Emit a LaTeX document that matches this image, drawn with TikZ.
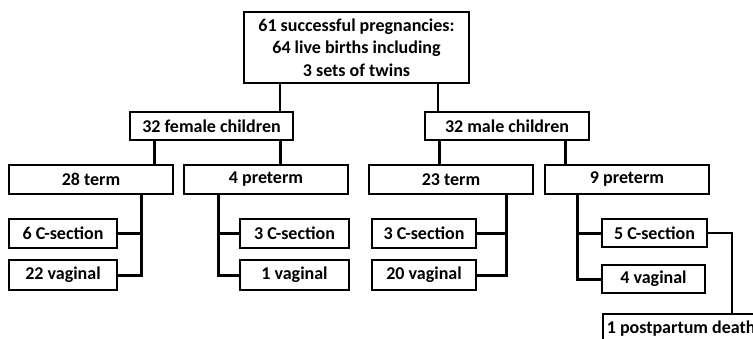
\documentclass[tikz,border=0pt]{standalone}
\usepackage{fontspec}
\setmainfont{Carlito}
\begin{document}
\begin{tikzpicture}[x=1bp,y=-1bp,
  box/.style={draw=black, line width=1.6bp, fill=white, inner sep=0pt, align=center,
    font=\bfseries\fontsize{18bp}{22.5bp}\selectfont},
  thin/.style={line width=1.3bp},
  heavy/.style={line width=3bp}]
\useasboundingbox (0,0) rectangle (753,338);
\begin{scope}
\clip (0,0) rectangle (753,338);
\node[box, minimum width=225bp, minimum height=71bp] (top) at (356.5,47.5)
  {61 successful pregnancies:\\64 live births including\\3 sets of twins};
\node[box, minimum width=163bp, minimum height=28bp] (fem) at (211.5,126) {32 female children};
\node[box, minimum width=164bp, minimum height=28bp] (male) at (507,126) {32 male children};
\node[box, minimum width=164bp, minimum height=29bp] (t28) at (91,179.5) {28 term};
\node[box, minimum width=164bp, minimum height=29bp] (p4) at (266,179.5) {4 preterm};
\node[box, minimum width=164bp, minimum height=29bp] (t23) at (451,179.5) {23 term};
\node[box, minimum width=164bp, minimum height=29bp] (p9) at (627,179.5) {9 preterm};
\node[box, minimum width=108bp, minimum height=29bp] (c6) at (63,233.5) {6 C-section};
\node[box, minimum width=108bp, minimum height=30bp] (v22) at (63,275) {22 vaginal};
\node[box, minimum width=109bp, minimum height=29bp] (c3a) at (294.5,233.5) {3 C-section};
\node[box, minimum width=109bp, minimum height=30bp] (v1) at (294.5,275) {1 vaginal};
\node[box, minimum width=104bp, minimum height=29bp] (c3b) at (424,233.5) {3 C-section};
\node[box, minimum width=104bp, minimum height=30bp] (v20) at (424,275) {20 vaginal};
\node[box, minimum width=105bp, minimum height=28bp] (c5) at (654.5,233) {5 C-section};
\node[box, minimum width=103bp, minimum height=28bp] (v4) at (653.5,279) {4 vaginal};
\node[box, anchor=north west, minimum height=30bp, inner xsep=4bp] (death) at (602,313) {1 postpartum death};
% thin connectors
\draw[thin] (top.south -| 280,0) -- (fem.north -| 280,0);
\draw[thin] (top.south -| 438,0) -- (male.north -| 438,0);
\draw[thin] (c5.east) -| (death.north -| 732,0);
% heavy connectors level 2 -> 3
\draw[heavy] (fem.south -| 154,0) -- (t28.north -| 154,0);
\draw[heavy] (fem.south -| 280,0) -- (p4.north -| 280,0);
\draw[heavy] (male.south -| 439,0) -- (t23.north -| 439,0);
\draw[heavy] (male.south -| 565,0) -- (p9.north -| 565,0);
% level 3 -> 4
\draw[heavy] (t28.south -| 141,0) |- (v22.east);
\draw[heavy] (c6.east) -- (c6.east -| 141,0);
\draw[heavy] (p4.south -| 218,0) |- (v1.west);
\draw[heavy] (c3a.west) -- (c3a.west -| 218,0);
\draw[heavy] (t23.south -| 506,0) |- (v20.east);
\draw[heavy] (c3b.east) -- (c3b.east -| 506,0);
\draw[heavy] (p9.south -| 577,0) |- (v4.west);
\draw[heavy] (c5.west) -- (c5.west -| 577,0);
\end{scope}
\end{tikzpicture}
\end{document}
